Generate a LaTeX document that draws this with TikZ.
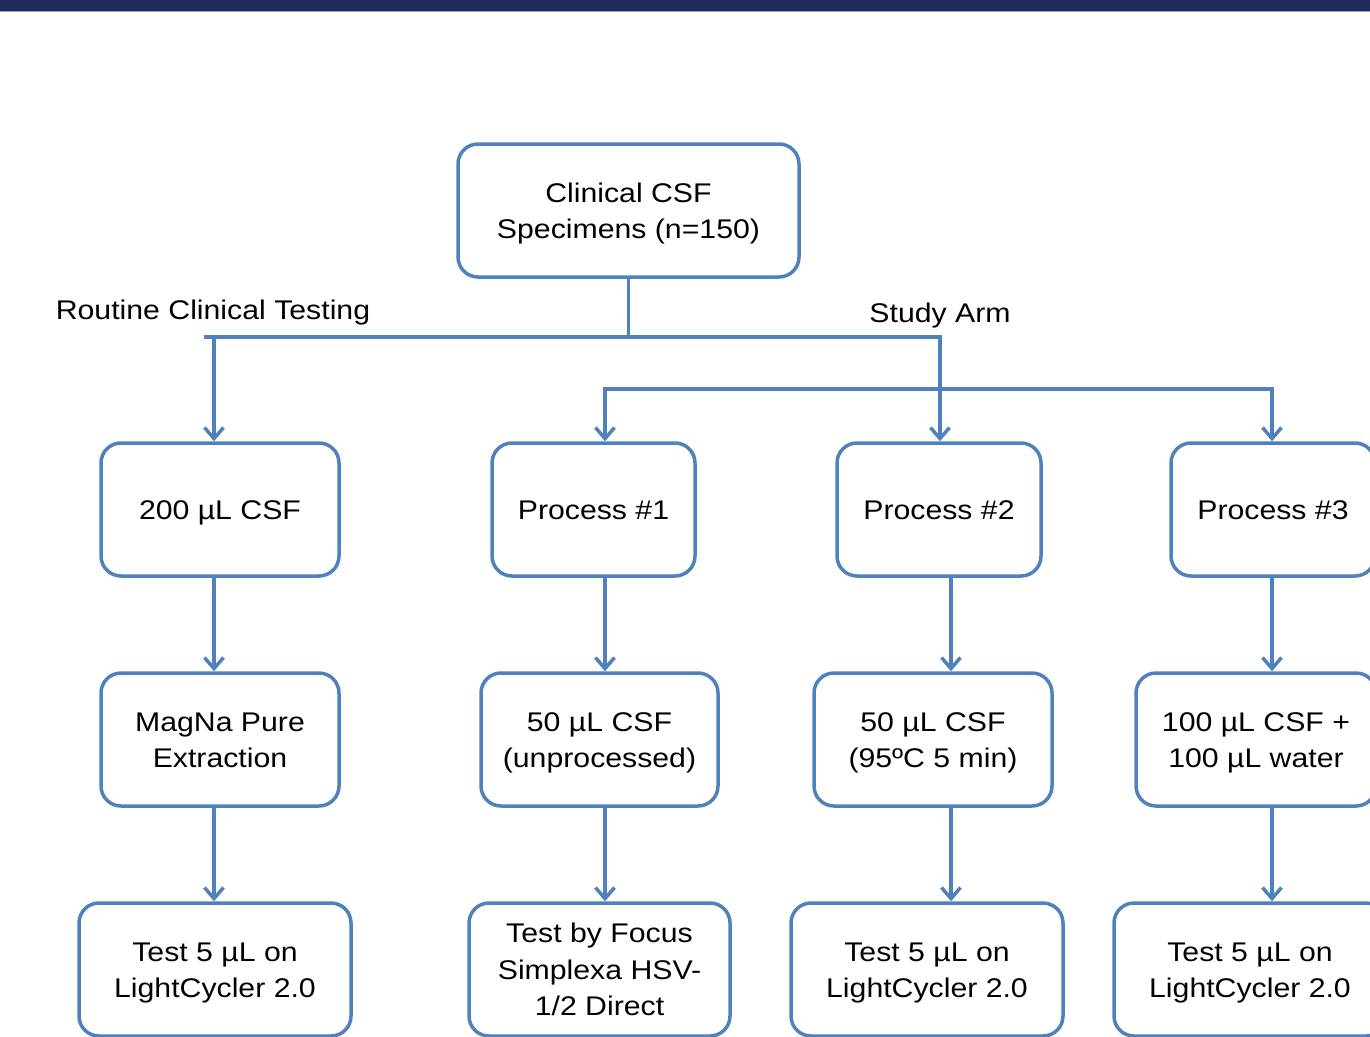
\documentclass[tikz,border=0pt]{standalone}
\usepackage{fontspec}
\setmainfont{Liberation Sans}[FakeStretch=1.12]
\usetikzlibrary{arrows.meta}
\definecolor{boxblue}{RGB}{79,129,189}
\definecolor{navybar}{RGB}{31,43,93}
\definecolor{barline}{RGB}{150,160,195}
\newcommand{\mlines}[1]{\raisebox{-2.5pt}[\height][\depth]{\begin{tabular}{@{}c@{}}#1\end{tabular}}}
\begin{document}
\begin{tikzpicture}[x=1pt,y=-1pt,
  box/.style={draw=boxblue, line width=3.5pt, rounded corners=20pt,
    inner sep=0pt, font=\fontsize{27}{36.5}\selectfont, text=black},
  conn/.style={draw=boxblue, line width=3.5pt},
  arr/.style={conn, -{Straight Barb[length=11pt,width=19pt]}},
  lbl/.style={font=\fontsize{27}{36.5}\selectfont, inner sep=0pt, anchor=base}]
\useasboundingbox (0,0) rectangle (1370,1036);
\clip (0,0) rectangle (1370,1036);
\fill[navybar] (0,0) rectangle (1370,11);
\draw[barline, line width=1pt] (0,11.5) -- (1370,11.5);

% top
\node[box, minimum width=341pt, minimum height=133pt] (top) at (628.5,210.5) {\mlines{Clinical CSF\\Specimens (n=150)}};

% row 1
\node[box, minimum width=238pt, minimum height=133pt] (b1) at (220,509.5) {\mlines{200 µL CSF}};
\node[box, minimum width=203pt, minimum height=133pt] (p1) at (593.5,509.5) {\mlines{Process \#1}};
\node[box, minimum width=204pt, minimum height=133pt] (p2) at (939,509.5) {\mlines{Process \#2}};
\node[box, minimum width=204pt, minimum height=133pt] (p3) at (1273,509.5) {\mlines{Process \#3}};

% row 2
\node[box, minimum width=238pt, minimum height=133pt] (m) at (220,739.5) {\mlines{MagNa Pure\\Extraction}};
\node[box, minimum width=237pt, minimum height=133pt] (u) at (599.5,739.5) {\mlines{50 µL CSF\\(unprocessed)}};
\node[box, minimum width=238pt, minimum height=133pt] (h) at (933,739.5) {\mlines{50 µL CSF\\(95ºC 5 min)}};
\node[box, minimum width=240pt, minimum height=133pt] (w) at (1256,739.5) {\mlines{100 µL CSF +\\100 µL water}};

% row 3
\node[box, minimum width=272pt, minimum height=133pt] (t1) at (215,969.5) {\mlines{Test 5 µL on\\LightCycler 2.0}};
\node[box, minimum width=261pt, minimum height=133pt] (f) at (599.5,969.5) {\mlines{Test by Focus\\Simplexa HSV-\\1/2 Direct}};
\node[box, minimum width=272pt, minimum height=133pt] (t3) at (927,969.5) {\mlines{Test 5 µL on\\LightCycler 2.0}};
\node[box, minimum width=272pt, minimum height=133pt] (t4) at (1250,969.5) {\mlines{Test 5 µL on\\LightCycler 2.0}};

% labels
\node[lbl] (rct) at (213,319) {Routine Clinical Testing};
\node[lbl] (sal) at (940,322) {Study Arm};

% junction coordinates
\coordinate (j0) at (628.5,337);
\coordinate (hl) at (204,337);
\coordinate (hr) at (942,337);
\coordinate (c1) at (214,337);
\coordinate (sa) at (940,337);
\coordinate (h2l) at (605,389);
\coordinate (h2r) at (1272,389);
\coordinate (x1) at (214,0);
\coordinate (x2) at (605,0);
\coordinate (x3) at (951,0);
\coordinate (x4) at (1272,0);

% connectors
\draw[conn] (top.south) -- (j0);
\draw[conn] (hl) -- (hr);
\draw[arr] (c1) -- (c1 |- b1.north);
\draw[arr] (sa) -- (sa |- p2.north);
\draw[arr] (sa |- h2l) -- (h2l) -- (h2l |- p1.north);
\draw[arr] (sa |- h2r) -- (h2r) -- (h2r |- p3.north);

\draw[arr] (b1.south -| x1) -- (m.north -| x1);
\draw[arr] (p1.south -| x2) -- (u.north -| x2);
\draw[arr] (p2.south -| x3) -- (h.north -| x3);
\draw[arr] (p3.south -| x4) -- (w.north -| x4);

\draw[arr] (m.south -| x1) -- (t1.north -| x1);
\draw[arr] (u.south -| x2) -- (f.north -| x2);
\draw[arr] (h.south -| x3) -- (t3.north -| x3);
\draw[arr] (w.south -| x4) -- (t4.north -| x4);
\end{tikzpicture}
\end{document}
